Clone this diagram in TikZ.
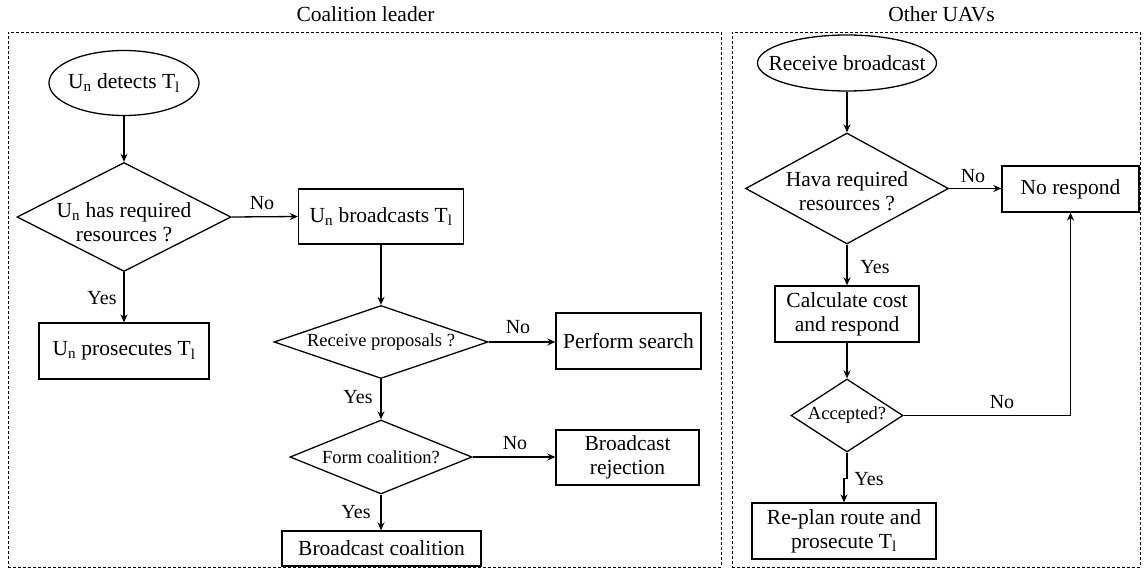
\documentclass[tikz,border=0pt]{standalone}
\usepackage{fontspec}
\setmainfont{Liberation Serif}
\usetikzlibrary{shapes.geometric,arrows.meta}
\begin{document}
\begin{tikzpicture}[x=1pt,y=-1pt,
 box/.style={draw, rectangle, inner sep=0pt, line width=1.3pt, font=\fontsize{21.5}{24}\selectfont, align=center},
 dia/.style={draw, diamond, inner sep=0pt, line width=1.3pt},
 ell/.style={draw, ellipse, inner sep=0pt, line width=1.3pt},
 btxt/.style={font=\fontsize{21.5}{24}\selectfont, align=center, inner sep=0pt},
 stxt/.style={font=\fontsize{18.5}{22}\selectfont, align=center, inner sep=0pt},
 lbl/.style={font=\fontsize{20}{24}\selectfont, inner sep=0pt},
 ttl/.style={font=\fontsize{21.5}{24}\selectfont, inner sep=0pt},
 arr/.style={-{Stealth[length=8pt,width=7pt]}, line width=1.3pt},
 frame/.style={draw, dash pattern=on 3pt off 2pt, line width=0.8pt, inner sep=0pt}
]
\useasboundingbox (0,0) rectangle (1148,572);

% frames and titles
\node[frame, minimum width=713, minimum height=535] (fl) at (364.5,299.5) {};
\node[frame, minimum width=408, minimum height=535] (fr) at (936,299.5) {};
\node[ttl] (tl) at (365.5,14) {Coalition leader};
\node[ttl] (tr) at (941.5,14) {Other UAVs};

% left column
\node[ell, minimum width=150, minimum height=65] (e1) at (124,83) {};
\node[btxt] (e1t) at (124,83) {U\textsubscript{n} detects T\textsubscript{l}};
\node[dia, minimum width=214, minimum height=109] (d1) at (124,217) {};
\node[btxt] (d1t) at (124,222) {U\textsubscript{n} has required\\resources ?};
\node[box, minimum width=170, minimum height=56] (rp) at (124,351) {U\textsubscript{n} prosecutes T\textsubscript{l}};

% middle column
\node[box, minimum width=165, minimum height=55] (rb) at (381,216.5) {U\textsubscript{n} broadcasts T\textsubscript{l}};
\node[dia, minimum width=214, minimum height=73] (d2) at (381,342) {};
\node[stxt] (d2t) at (381,342) {Receive proposals ?};
\node[dia, minimum width=182, minimum height=74] (d3) at (381,457) {};
\node[stxt] (d3t) at (381,457) {Form coalition?};
\node[box, minimum width=199, minimum height=35] (rc) at (381.5,548.5) {Broadcast coalition};
\node[box, minimum width=145, minimum height=56] (rs) at (628.5,341) {Perform search};
\node[box, minimum width=143, minimum height=55] (rr) at (627.5,457.5) {Broadcast\\rejection};

% right side
\node[ell, minimum width=179, minimum height=56] (e2) at (847,63) {};
\node[btxt] (e2t) at (847,63) {Receive broadcast};
\node[dia, minimum width=203, minimum height=111] (d4) at (847,188.5) {};
\node[btxt] (d4t) at (847,191) {Hava required\\resources ?};
\node[box, minimum width=137, minimum height=46] (rn) at (1070.5,189) {No respond};
\node[box, minimum width=144, minimum height=56] (rk) at (847,314) {Calculate cost\\and respond};
\node[dia, minimum width=112, minimum height=73] (d5) at (847,415.5) {};
\node[stxt] (d5t) at (847,415.5) {Accepted?};
\node[box, minimum width=184, minimum height=56] (rq) at (844,531) {Re-plan route and\\prosecute T\textsubscript{l}};

% connectors left
\draw[arr] (e1.south) -- (d1.north);
\draw[arr] (d1.south) -- (rp.north);
\draw[arr] (d1.east) -- (rb.west);
\draw[arr] (rb.south) -- (d2.north);
\draw[arr] (d2.east) -- (d2.east -| rs.west);
\draw[arr] (d2.south) -- (d3.north);
\draw[arr] (d3.east) -- (d3.east -| rr.west);
\draw[arr] (d3.south) -- (d3.south |- rc.north);

% connectors right
\draw[arr] (e2.south) -- (d4.north);
\draw[arr] (d4.east) -- (d4.east -| rn.west);
\draw[arr] (d4.south) -- (rk.north);
\draw[arr] (rk.south) -- (d5.north);
\draw[arr] (d5.east) -| (rn.south);
\draw[arr] (d5.south) -- ++(0,26) -| (rq.north);

% labels
\node[lbl] (l1) at (102,298) {Yes};
\node[lbl] (l2) at (262,203) {No};
\node[lbl] (l3) at (518,327) {No};
\node[lbl] (l4) at (358,397) {Yes};
\node[lbl] (l5) at (515,443) {No};
\node[lbl] (l6) at (356,512) {Yes};
\node[lbl] (l7) at (973,176) {No};
\node[lbl] (l8) at (875,267) {Yes};
\node[lbl] (l9) at (1002,402) {No};
\node[lbl] (l10) at (869,479) {Yes};
\end{tikzpicture}
\end{document}
